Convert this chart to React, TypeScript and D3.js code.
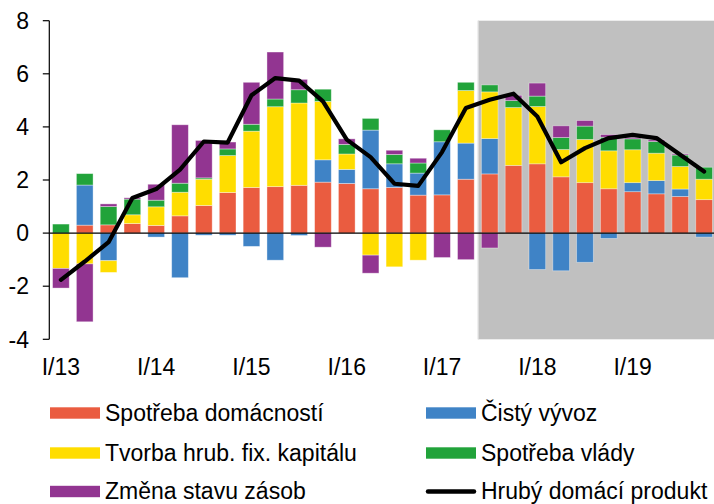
import React, { useEffect } from "react";
import * as d3 from "d3";

const quarters = [
  "I/13","II/13","III/13","IV/13","I/14","II/14","III/14","IV/14",
  "I/15","II/15","III/15","IV/15","I/16","II/16","III/16","IV/16",
  "I/17","II/17","III/17","IV/17","I/18","II/18","III/18","IV/18",
  "I/19","II/19","III/19","IV/19",
];
const household = [0, 0.30, 0.31, 0.36, 0.29, 0.65, 1.04, 1.53, 1.72, 1.75, 1.80, 1.92, 1.87, 1.67, 1.72, 1.43, 1.44, 2.03, 2.23, 2.55, 2.61, 2.12, 1.90, 1.67, 1.56, 1.48, 1.38, 1.26];
const netExport = [0, 1.51, -1.04, 0, -0.15, -1.68, -0.08, -0.08, -0.50, -1.02, -0.09, 0.84, 0.53, 2.21, 0.89, 0.83, 2.00, 1.36, 1.33, 0, -1.37, -1.42, -1.10, -0.20, 0.34, 0.50, 0.28, -0.15];
const gfcf = [-1.33, -1.16, -0.44, 0.33, 0.70, 0.89, 0.99, 1.39, 2.12, 3.01, 3.10, 2.20, 0.58, -0.83, -1.27, -1.02, 0, 1.98, 1.76, 2.18, 2.16, 1.03, 1.63, 1.43, 1.24, 1.03, 0.85, 0.77];
const government = [0.34, 0.43, 0.69, 0.59, 0.25, 0.34, 0.05, 0.25, 0.26, 0.29, 0.50, 0.46, 0.36, 0.44, 0.35, 0.38, 0.45, 0.31, 0.26, 0.26, 0.39, 0.45, 0.50, 0.51, 0.41, 0.44, 0.43, 0.45];
const inventories = [-0.74, -2.18, 0.10, 0.05, 0.60, 2.20, 1.41, 0.26, 1.58, 1.77, 0.39, -0.53, 0.21, -0.68, 0.16, 0.18, -0.92, -1.00, -0.56, 0.20, 0.49, 0.44, 0.21, 0.10, 0.05, 0.06, 0.04, 0];
const gdp = [-1.76, -1.07, -0.34, 1.32, 1.66, 2.39, 3.45, 3.41, 5.19, 5.84, 5.74, 4.96, 3.52, 2.86, 1.86, 1.78, 3.05, 4.71, 5.02, 5.25, 4.39, 2.67, 3.2, 3.58, 3.70, 3.58, 2.95, 2.32];

const seriesKeys = ["household", "netExport", "gfcf", "government", "inventories"];
const seriesNames = ["Spotřeba domácností", "Čistý vývoz", "Tvorba hrub. fix. kapitálu", "Spotřeba vlády", "Změna stavu zásob"];
const seriesColors = ["#EA5C40", "#3F83C6", "#FFDD00", "#21A33A", "#923591"];
const lineName = "Hrubý domácí produkt";
const yTicks = [-4, -2, 0, 2, 4, 6, 8];
const forecastStart = "III/17";

const W = 714;
const H = 504;
const FONT = "'Liberation Sans', Arial, sans-serif";
const FS = 23;

export default function App() {
  useEffect(() => {
    document.body.style.margin = "0";
  }, []);

  const table = quarters.map((q, i) => ({
    q,
    household: household[i],
    netExport: netExport[i],
    gfcf: gfcf[i],
    government: government[i],
    inventories: inventories[i],
  }));

  const x = d3.scaleBand<string>().domain(quarters).range([49, 716]).paddingInner(0.3).paddingOuter(0.15);
  const y = d3.scaleLinear().domain([-4, 8]).range([339.3, 20.7]);

  const stacked = d3.stack<any>().keys(seriesKeys).offset(d3.stackOffsetDiverging)(table);

  const line = d3
    .line<number>()
    .x((_, i) => (x(quarters[i]) as number) + x.bandwidth() / 2)
    .y((d) => y(d));

  const step = x.step();
  const grayX = (x(forecastStart) as number) - (step - x.bandwidth()) / 2;
  const axisX = 49.3;

  const legendItems = [
    { name: seriesNames[0], color: seriesColors[0], col: 0, row: 0 },
    { name: seriesNames[1], color: seriesColors[1], col: 1, row: 0 },
    { name: seriesNames[2], color: seriesColors[2], col: 0, row: 1 },
    { name: seriesNames[3], color: seriesColors[3], col: 1, row: 1 },
    { name: seriesNames[4], color: seriesColors[4], col: 0, row: 2 },
  ];
  const colX = [50, 426];
  const rowY = [413, 453, 491.5];

  return (
    <svg width={W} height={H} style={{ display: "block", background: "#fff" }} fontFamily={FONT}>
      <rect x={grayX} y={y(8)} width={W - grayX} height={y(-4) - y(8)} fill="#C0C0C0" />
      <line x1={grayX + 0.5} x2={grayX + 0.5} y1={y(8)} y2={y(-4)} stroke="#e0e0e0" strokeWidth={1} />

      {stacked.map((s, si) => (
        <g key={seriesKeys[si]} fill={seriesColors[si]}>
          {s.map((d, i) => {
            const y0 = y(d[0]);
            const y1 = y(d[1]);
            const h = Math.abs(y0 - y1);
            if (h < 0.01) return null;
            return (
              <rect
                key={i}
                x={x(quarters[i])}
                y={Math.min(y0, y1)}
                width={x.bandwidth()}
                height={h}
                stroke="rgba(255,255,255,0.45)"
                strokeWidth={0.8}
              />
            );
          })}
        </g>
      ))}

      <line x1={axisX} x2={W} y1={y(0)} y2={y(0)} stroke="#000" strokeWidth={1.2} />

      <path d={line(gdp) || ""} fill="none" stroke="#000" strokeWidth={4.2} strokeLinejoin="round" strokeLinecap="round" />

      <line x1={axisX} x2={axisX} y1={y(8)} y2={y(-4)} stroke="#000" strokeWidth={1.2} />
      {yTicks.map((t) => (
        <g key={t}>
          <line x1={axisX - 6.5} x2={axisX} y1={y(t)} y2={y(t)} stroke="#000" strokeWidth={1.2} />
          <text x={29} y={y(t)} dy="0.36em" textAnchor="end" fontSize={FS} fill="#000">
            {t}
          </text>
        </g>
      ))}

      {quarters.map((q) =>
        q.startsWith("I/") ? (
          <text key={q} x={(x(q) as number) + x.bandwidth() / 2} y={375} textAnchor="middle" fontSize={FS} fill="#000">
            {q}
          </text>
        ) : null
      )}

      {legendItems.map((it) => (
        <g key={it.name}>
          <rect x={colX[it.col]} y={rowY[it.row] - 5.7} width={50} height={11.4} fill={it.color} />
          <text x={colX[it.col] + 55} y={rowY[it.row] + 7.5} fontSize={FS} fill="#000">
            {it.name}
          </text>
        </g>
      ))}
      <line x1={colX[1] + 2} x2={colX[1] + 48} y1={rowY[2]} y2={rowY[2]} stroke="#000" strokeWidth={4.5} strokeLinecap="round" />
      <text x={colX[1] + 55} y={rowY[2] + 7.5} fontSize={FS} fill="#000">
        {lineName}
      </text>
    </svg>
  );
}
